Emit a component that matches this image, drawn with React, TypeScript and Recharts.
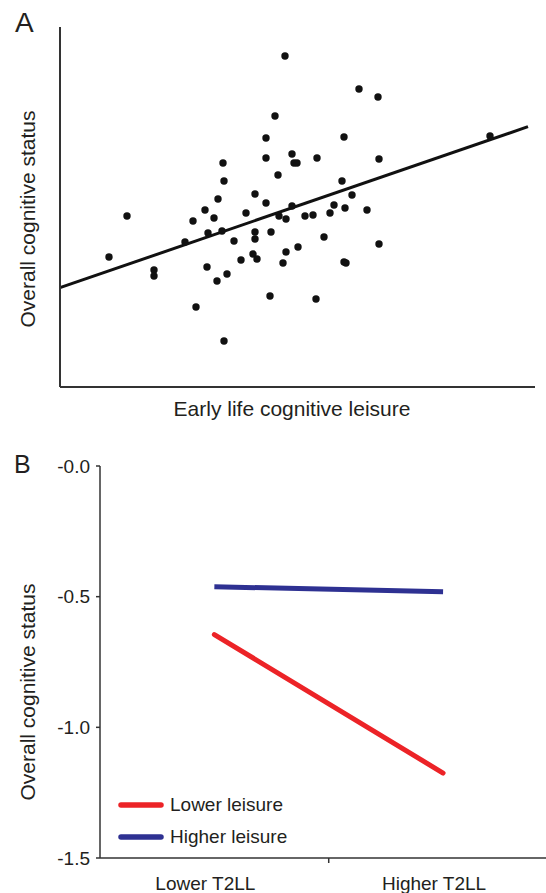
import React from 'react'
import {
  ScatterChart,
  Scatter,
  LineChart,
  Line,
  XAxis,
  YAxis,
  ReferenceLine,
  Label,
  Legend,
} from 'recharts'

// Panel A: early life cognitive leisure vs overall cognitive status (arbitrary units)
const leisureScores = [
  49, 67, 94, 94, 125, 133, 136, 145, 148, 147, 154, 158, 162, 157, 167, 163, 164, 164, 174, 181,
  186, 195, 195, 195, 193, 197, 206, 206, 206, 211, 210, 215, 218, 219, 225, 226, 226, 223, 232, 234,
  237, 232, 238, 245, 253, 257, 256, 264, 270, 274, 282, 284, 285, 284, 286, 292, 299, 307, 318, 319,
  319, 430,
]
const cognitionScores = [
  130, 171, 117, 111, 145, 166, 80, 177, 154, 120, 169, 188, 156, 106, 113, 224, 206, 46, 146, 127,
  174, 193, 155, 148, 133, 128, 249, 229, 184, 155, 91, 271, 212, 171, 331, 168, 135, 124, 233, 224,
  224, 181, 140, 171, 172, 229, 88, 150, 174, 182, 206, 250, 179, 125, 124, 192, 298, 177, 290, 228,
  143, 251,
]
const fitX = [0, 468]
const fitY = [99.3, 260.3]

// Panel B: cognitive status by T2LL and leisure group
const categories = ['Lower T2LL', 'Higher T2LL']
const categoryPos = [0.5, 1.5]
const lowerLeisure = [-0.645, -1.175]
const higherLeisure = [-0.462, -0.481]
const seriesNames = ['Lower leisure', 'Higher leisure']
const yTicks = [0, -0.5, -1, -1.5]

const FONT = '"Liberation Sans", Arial, Helvetica, sans-serif'
const INK = '#231f20'
const RED = '#ec2327'
const BLUE = '#2e3192'

const points = leisureScores.map((x, i) => ({ x, y: cognitionScores[i] }))
const lineRows = categoryPos.map((x, i) => ({
  x,
  label: categories[i],
  lower: lowerLeisure[i],
  higher: higherLeisure[i],
}))

function Dot(props: any) {
  return <circle cx={props.cx} cy={props.cy} r={3.7} fill="#111" />
}

function CategoryTick(props: any) {
  const { x, y, payload } = props
  const idx = categoryPos.indexOf(payload.value)
  if (idx === -1) {
    return <line x1={x} y1={y} x2={x} y2={y + 5} stroke="#333" strokeWidth={1.5} />
  }
  return (
    <text x={x - 9} y={y + 32} textAnchor="middle" fontSize={19} fill={INK}>
      {categories[idx]}
    </text>
  )
}

function LegendBox(props: any) {
  const items = [...(props.payload || [])].sort(
    (a: any, b: any) => seriesNames.indexOf(a.value) - seriesNames.indexOf(b.value)
  )
  return (
    <div style={{ fontFamily: FONT }}>
      {items.map((it: any) => (
        <div key={it.value} style={{ display: 'flex', alignItems: 'center', height: 32 }}>
          <svg width={46} height={10} style={{ display: 'block' }}>
            <line x1={3} y1={5} x2={43} y2={5} stroke={it.color} strokeWidth={5.5} strokeLinecap="round" />
          </svg>
          <span style={{ marginLeft: 6, fontSize: 19, color: INK, whiteSpace: 'nowrap' }}>{it.value}</span>
        </div>
      ))}
    </div>
  )
}

export default function App() {
  return (
    <div
      style={{
        position: 'absolute',
        left: 0,
        top: 0,
        width: 546,
        height: 893,
        background: '#fff',
        fontFamily: FONT,
        overflow: 'hidden',
      }}
    >
      {/* A */}
      <div style={{ position: 'absolute', left: 0, top: 0 }}>
        <ScatterChart width={546} height={430} margin={{ top: 27, right: 11, bottom: 0, left: 0 }}>
          <XAxis
            type="number"
            dataKey="x"
            domain={[0, 475]}
            tick={false}
            tickLine={false}
            height={43}
            axisLine={{ stroke: '#333', strokeWidth: 2 }}
          >
            <Label
              content={() => (
                <text x={292} y={416} textAnchor="middle" fontSize={21} fill={INK}>
                  Early life cognitive leisure
                </text>
              )}
            />
          </XAxis>
          <YAxis
            type="number"
            dataKey="y"
            domain={[0, 360]}
            tick={false}
            tickLine={false}
            width={60}
            axisLine={{ stroke: '#333', strokeWidth: 2 }}
          >
            <Label
              content={() => (
                <g>
                  <text x={15} y={32} fontSize={28} fill={INK}>
                    A
                  </text>
                  <text
                    x={27}
                    y={219}
                    transform="rotate(-90 27 219)"
                    textAnchor="middle"
                    dominantBaseline="central"
                    fontSize={21}
                    fill={INK}
                  >
                    Overall cognitive status
                  </text>
                </g>
              )}
            />
          </YAxis>
          <ReferenceLine
            segment={[
              { x: fitX[0], y: fitY[0] },
              { x: fitX[1], y: fitY[1] },
            ]}
            stroke="#111"
            strokeWidth={3}
          />
          <Scatter data={points} shape={Dot} isAnimationActive={false} />
        </ScatterChart>
      </div>

      {/* B */}
      <div style={{ position: 'absolute', left: 0, top: 440 }}>
        <LineChart width={546} height={453} data={lineRows} margin={{ top: 26, right: 0, bottom: 0, left: 0 }}>
          <XAxis
            type="number"
            dataKey="x"
            domain={[0, 1.95]}
            ticks={[0.5, 1, 1.5]}
            interval={0}
            tickLine={false}
            tickSize={0}
            tickMargin={0}
            tick={<CategoryTick />}
            height={35}
            axisLine={{ stroke: '#333', strokeWidth: 1.5 }}
          />
          <YAxis
            type="number"
            domain={[-1.5, 0]}
            ticks={yTicks}
            interval={0}
            width={100}
            tickSize={4}
            tickMargin={6}
            tickFormatter={(v: number) => (v === 0 ? '-0.0' : v.toFixed(1))}
            tick={{ fontSize: 19, fill: INK }}
            tickLine={{ stroke: '#333', strokeWidth: 1.5 }}
            axisLine={{ stroke: '#333', strokeWidth: 1.5 }}
          >
            <Label
              content={() => (
                <g>
                  <text x={14} y={33} fontSize={25} fill={INK}>
                    B
                  </text>
                  <text
                    x={27}
                    y={252}
                    transform="rotate(-90 27 252)"
                    textAnchor="middle"
                    dominantBaseline="central"
                    fontSize={21}
                    fill={INK}
                  >
                    Overall cognitive status
                  </text>
                </g>
              )}
            />
          </YAxis>
          <Legend
            layout="vertical"
            align="center"
            verticalAlign="middle"
            content={<LegendBox />}
            wrapperStyle={{ left: 118, top: 349, width: 'auto' }}
          />
          <Line
            type="linear"
            dataKey="lower"
            name={seriesNames[0]}
            stroke={RED}
            strokeWidth={5}
            strokeLinecap="round"
            dot={false}
            isAnimationActive={false}
          />
          <Line
            type="linear"
            dataKey="higher"
            name={seriesNames[1]}
            stroke={BLUE}
            strokeWidth={5}
            dot={false}
            isAnimationActive={false}
          />
        </LineChart>
      </div>
    </div>
  )
}
